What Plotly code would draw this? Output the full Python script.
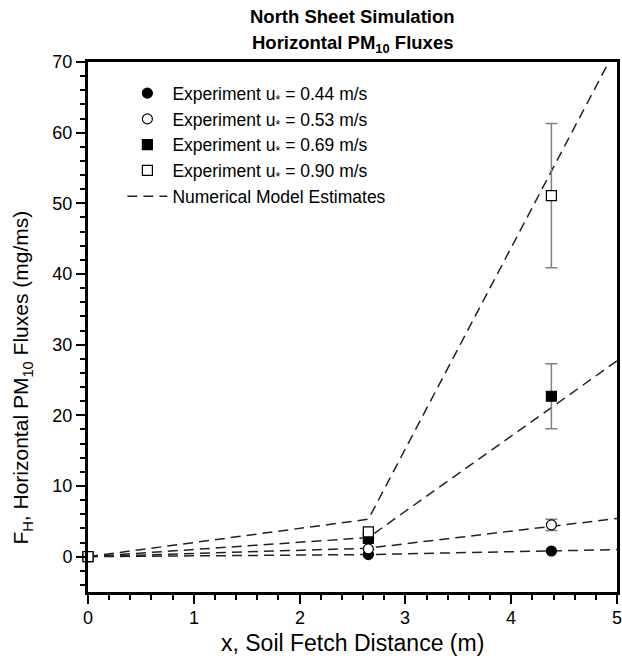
import plotly.graph_objects as go

# Experimental data
x_exp = [0.0, 2.65, 4.38]
exp_044 = [0.0, 0.3, 0.8]
exp_053 = [0.0, 1.1, 4.5]
exp_069 = [0.0, 2.6, 22.7]
exp_090 = [0.0, 3.5, 51.1]
err_044 = [0, 0, 0]
err_053 = [0, 0, 0.8]
err_069 = [0, 0, 4.6]
err_090 = [0, 0, 10.2]

# Numerical model estimates
x_mod = [0.0, 2.65, 5.0]
mod_044 = [0.0, 0.3, 1.0]
mod_053 = [0.0, 1.2, 5.4]
mod_069 = [0.0, 2.7, 27.7]
mod_090 = [0.0, 5.3, 72.2]

x_ticks = [0, 1, 2, 3, 4, 5]

labels = ["Experiment u<sub>*</sub> = 0.44 m/s", "Experiment u<sub>*</sub> = 0.53 m/s",
          "Experiment u<sub>*</sub> = 0.69 m/s", "Experiment u<sub>*</sub> = 0.90 m/s"]

FONT = "Arial, Liberation Sans, sans-serif"
fig = go.Figure()

for i, ym in enumerate([mod_044, mod_053, mod_069, mod_090]):
    fig.add_trace(go.Scatter(
        x=x_mod, y=ym, mode="lines",
        line=dict(color="#222222", width=1.5, dash="10px,6px"),
        name="Numerical Model Estimates", legendgroup="model",
        showlegend=(i == 0), legendrank=1005, cliponaxis=True))

symbols = ["circle", "circle", "square", "square"]
fills = ["black", "white", "black", "white"]
for i, (ye, er) in enumerate([(exp_044, err_044), (exp_053, err_053),
                              (exp_069, err_069), (exp_090, err_090)]):
    fig.add_trace(go.Scatter(
        x=x_exp, y=ye, mode="markers", name=labels[i],
        marker=dict(symbol=symbols[i], size=10, color=fills[i],
                    line=dict(color="black", width=1.2)),
        error_y=dict(type="data", array=er, visible=True, color="#808080", thickness=1.5, width=6),
        legendrank=1000 + i, cliponaxis=False))

annotations = [
    dict(text="<b>North Sheet Simulation</b>", xref="paper", yref="paper",
         x=0.5, y=(591 - 17) / 529, xanchor="center", yanchor="middle",
         showarrow=False, font=dict(size=18.5, family=FONT)),
    dict(text="<b>Horizontal PM<sub>10</sub> Fluxes</b>", xref="paper", yref="paper",
         x=0.5, y=(591 - 44) / 529, xanchor="center", yanchor="middle",
         showarrow=False, font=dict(size=18.5, family=FONT)),
    dict(text="x, Soil Fetch Distance (m)", xref="paper", yref="paper",
         x=0.5, y=(591 - 642) / 529, xanchor="center", yanchor="middle",
         showarrow=False, font=dict(size=23, family=FONT)),
    dict(text="F<sub>H</sub>, Horizontal PM<sub>10</sub> Fluxes (mg/ms)",
         xref="paper", yref="paper", textangle=-90,
         x=(22 - 88) / 529, y=(591 - 377) / 529, xanchor="center", yanchor="middle",
         showarrow=False, font=dict(size=21, family=FONT)),
]
# x tick labels drawn as annotations so the last one ("5") at the right edge stays visible
for t in x_ticks:
    annotations.append(dict(text=str(t), xref="x", yref="paper", x=t,
                            y=(591 - 617) / 529, xanchor="center", yanchor="middle",
                            showarrow=False, font=dict(size=18, family=FONT)))

fig.update_layout(
    width=622, height=665,
    margin=dict(l=88, r=5, t=62, b=73),
    paper_bgcolor="white", plot_bgcolor="white",
    font=dict(family=FONT, color="black"),
    legend=dict(x=0.065, y=0.975, xanchor="left", yanchor="top",
                bgcolor="rgba(0,0,0,0)", font=dict(size=17.5, family=FONT),
                itemwidth=40, tracegroupgap=0),
    showlegend=True,
    annotations=annotations,
)
fig.update_xaxes(
    range=[0, 5], tickvals=x_ticks, showticklabels=False,
    showline=True, linecolor="black", linewidth=3,
    mirror=True, ticks="outside", ticklen=9, tickwidth=2, tickcolor="black",
    showgrid=False, zeroline=False, automargin=False,
    minor=dict(dtick=0.2, tick0=0, ticks="outside", ticklen=5, tickwidth=2, tickcolor="black"))
fig.update_yaxes(
    range=[-5, 70], dtick=10, tick0=0, showline=True, linecolor="black", linewidth=3,
    mirror=True, ticks="outside", ticklen=9, tickwidth=2, tickcolor="black",
    tickfont=dict(size=18), showgrid=False, zeroline=False, automargin=False,
    minor=dict(dtick=2, ticks="outside", ticklen=5, tickwidth=2, tickcolor="black"))

fig.write_html("out.html")
